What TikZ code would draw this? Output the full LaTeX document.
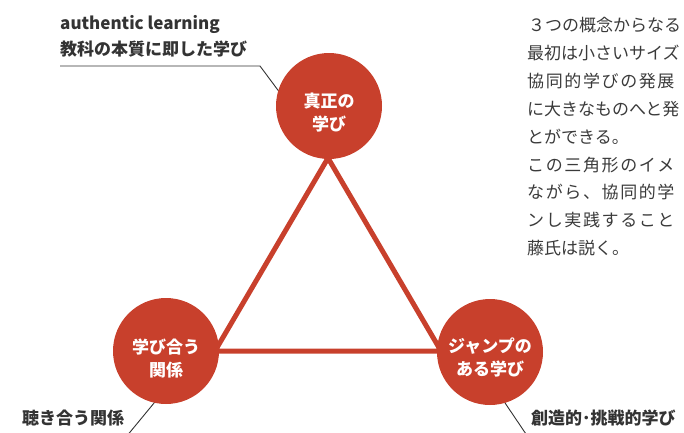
\documentclass[tikz,border=0pt]{standalone}
\usepackage{fontspec}
\setmainfont{Noto Sans CJK JP}
\newfontfamily\jpsp[LetterSpace=9.5]{Noto Sans CJK JP}
\definecolor{tred}{HTML}{C8402C}
\definecolor{ink}{HTML}{333333}
\definecolor{bodyc}{HTML}{3A3A3A}
\begin{document}
\begin{tikzpicture}[x=1pt,y=-1pt,
  circ/.style={circle, fill=tred, minimum size=106pt, inner sep=0pt},
  ctext/.style={text=white, font=\fontsize{17}{23}\selectfont\bfseries, align=center, inner sep=0pt},
  lab/.style={text=ink, font=\fontsize{17}{20}\selectfont\bfseries, inner sep=0pt, anchor=base west},
  para/.style={text=bodyc, font=\fontsize{17}{20}\selectfont, inner sep=0pt, anchor=base west},
  parasp/.style={text=bodyc, font={\jpsp\fontsize{17}{20}\selectfont}, inner sep=0pt, anchor=base west},
  lead/.style={draw=ink, line width=0.9pt},
  tri/.style={draw=tred, line width=5pt, line join=miter}]
\clip (0,0) rectangle (684,432);

% leader coordinates
\coordinate (l1a) at (60,66);
\coordinate (l1b) at (260,66);
\coordinate (l1c) at (289,105);
\coordinate (l2a) at (159,397);
\coordinate (l2b) at (126,437);
\coordinate (l3a) at (501,397);
\coordinate (l3b) at (528,437);
\draw[lead] (l1a) -- (l1b) -- (l1c);
\draw[lead] (l2a) -- (l2b);
\draw[lead] (l3a) -- (l3b);

% triangle
\coordinate (apex) at (328,158);
\coordinate (bl) at (215,351);
\coordinate (br) at (441,351);
\draw[tri] (apex) -- (bl) -- (br) -- cycle;

% circles
\node[circ] (top) at (329,106) {};
\node[circ] (left) at (166,351) {};
\node[circ] (right) at (490,352) {};
\node[ctext] (toptx) at (329,112.5) {真正の\\学び};
\node[ctext] (lefttx) at (166,358.5) {学び合う\\関係};
\node[ctext] (righttx) at (490,357) {ジャンプの\\ある学び};

% labels
\node[lab] (la1) at (60,29) {authentic learning};
\node[lab] (la2) at (60,55) {教科の本質に即した学び};
\node[lab] (lb) at (22,424.5) {聴き合う関係};
\node[lab] (lc) at (531,424.5) {創造的･挑戦的学び};

% paragraph
\node[para]   (p1) at (528,31.5)  {３つの概念からなる};
\node[para]   (p2) at (527,59.4)  {最初は小さいサイズ};
\node[parasp] (p3) at (527,87.3)  {協同的学びの発展};
\node[para]   (p4) at (527,115.2) {に大きなものへと発};
\node[para]   (p5) at (527,143.1) {とができる。};
\node[parasp] (p6) at (527,171.0) {この三角形のイメ};
\node[parasp] (p7) at (527,198.9) {ながら、協同的学};
\node[parasp] (p8) at (527,226.8) {ンし実践すること};
\node[para]   (p9) at (527,254.7) {藤氏は説く。};
\end{tikzpicture}
\end{document}
